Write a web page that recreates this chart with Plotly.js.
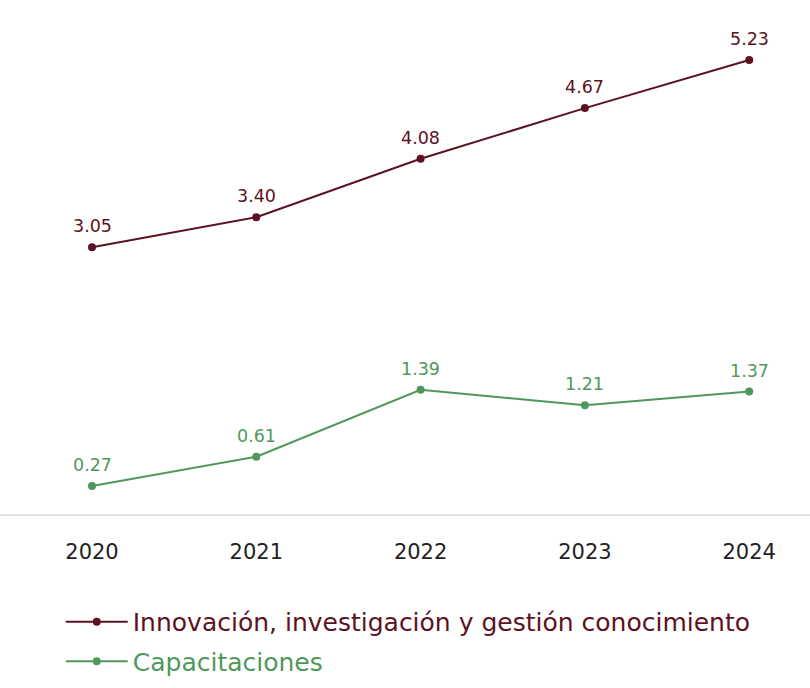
<!DOCTYPE html>
<html>
<head>
<meta charset="utf-8">
<script src="https://cdn.plot.ly/plotly-3.0.1.min.js"></script>
<style>html,body{margin:0;padding:0;background:#fff;}#chart{width:810px;height:688px;}</style>
</head>
<body>
<div id="chart"></div>
<script>
const years = [2020, 2021, 2022, 2023, 2024];
const innovacion = [3.05, 3.40, 4.08, 4.67, 5.23];
const capacitaciones = [0.27, 0.61, 1.39, 1.21, 1.37];
const seriesNames = ['Innovación, investigación y gestión conocimiento', 'Capacitaciones'];
const maroon = '#5c1222';
const green = '#4f985c';
const fontFam = '"DejaVu Sans", Verdana, sans-serif';

function trace(y, name, color, group) {
  return {
    x: years, y: y, type: 'scatter', mode: 'lines+markers',
    name: '<span style="color:' + color + '">' + name + '</span>',
    legendgroup: group,
    line: {color: color, width: 2},
    marker: {color: color, size: 8},
    cliponaxis: false,
    hoverinfo: 'skip'
  };
}

function labels(y, color) {
  return y.map((v, i) => ({
    x: years[i], y: v, xref: 'x', yref: 'y',
    text: v.toFixed(2), showarrow: false,
    yshift: 21, yanchor: 'middle', xanchor: 'center',
    font: {family: fontFam, size: 17.5, color: color}
  }));
}

const data = [
  trace(innovacion, seriesNames[0], maroon, 'a'),
  trace(capacitaciones, seriesNames[1], green, 'b')
];

const layout = {
  width: 810, height: 688,
  margin: {l: 0, r: 0, t: 20, b: 174},
  paper_bgcolor: '#fff', plot_bgcolor: '#fff',
  font: {family: fontFam},
  showlegend: true,
  legend: {
    orientation: 'v', x: 0.075, xanchor: 'left', y: -0.172, yanchor: 'top',
    font: {family: fontFam, size: 25, color: maroon},
    itemwidth: 62, tracegroupgap: 4
  },
  annotations: labels(innovacion, maroon).concat(labels(capacitaciones, green)),
  xaxis: {
    range: [2019.44, 2024.37],
    tickvals: years, ticktext: years.map(String),
    showgrid: false, zeroline: false,
    showline: true, linecolor: '#e3e3e3', linewidth: 2,
    ticks: '', ticklabelstandoff: 18,
    tickfont: {family: fontFam, size: 21, color: '#222'}
  },
  yaxis: {
    range: [-0.056, 5.696],
    visible: false, showgrid: false, zeroline: false
  }
};

Plotly.newPlot('chart', data, layout, {displayModeBar: false, staticPlot: true});
</script>
</body>
</html>
